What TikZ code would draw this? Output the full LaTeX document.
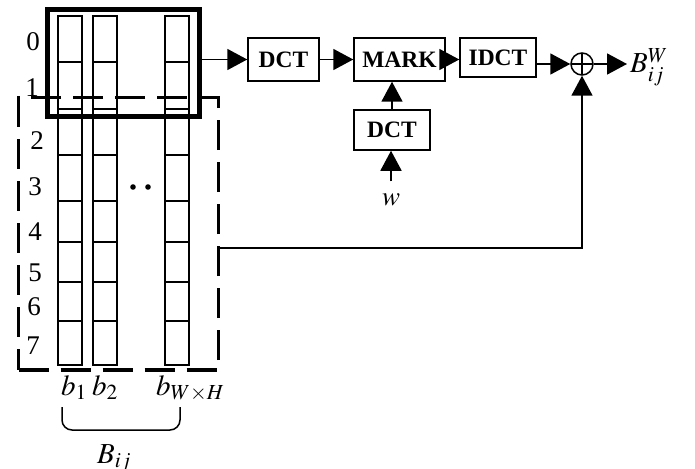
\documentclass[tikz,border=0pt]{standalone}
\usepackage{mathptmx}
\usepackage{fontspec}
\setmainfont{Liberation Serif}
\usetikzlibrary{arrows.meta, positioning, calc}

\begin{document}
\begin{tikzpicture}[x=1pt, y=-1pt,
    bloque/.style={rectangle, draw, line width=1.5pt, inner sep=0pt, font=\fontsize{23.5}{26}\selectfont\bfseries},
    flecha/.style={line width=1.8pt, -{Triangle[length=20pt, width=21pt]}},
    celda/.style={line width=1.6pt},
    etiq/.style={font=\fontsize{27}{30}\selectfont},
    simbolo/.style={font=\fontsize{29}{32}\selectfont}]

    \useasboundingbox (0,0) rectangle (695,468);

    % columnas b_1 ... b_{WxH}
    \foreach \x in {58, 93, 165} {
        \draw[celda] (\x,16) rectangle (\x+24,365);
        \foreach \y in {62, 109, 155, 201, 242, 282, 321}
            \draw[celda] (\x,\y) -- (\x+24,\y);
    }
    \foreach \n/\x/\y in {0/33/42, 1/32/88, 2/37/141, 3/35/187, 4/35/232, 5/35/273, 6/34/307, 7/33/346}
        \node[etiq] (fila\n) at (\x,\y) {\n};
    \fill (133,187) circle (2.8pt) (148,187) circle (2.8pt);

    \node[draw, line width=5pt, minimum width=152pt, minimum height=106pt, inner sep=0pt] (ventana) at (123.5,63) {};
    \node[draw, line width=3.5pt, dash pattern=on 30pt off 12pt, minimum width=200pt, minimum height=272.5pt, inner sep=0pt] (grupo) at (118.5,233.75) {};

    \node[simbolo, anchor=base west, inner sep=0pt] (b1) at (61,395) {$b_1$};
    \node[simbolo, anchor=base west, inner sep=0pt] (b2) at (92,395) {$b_2$};
    \node[simbolo, anchor=base west, inner sep=0pt] (bn) at (156,395) {$b_{W\times H}$};
    \draw[line width=1.5pt, rounded corners=10pt] (62,407) -- (62,430) -- (180,430) -- (180,407);
    \node[simbolo, anchor=base west, inner sep=0pt] (bij) at (97,463) {$B_{ij}$};

    % cadena de marcado
    \node[bloque, minimum width=71pt, minimum height=43pt] (dct) at (283.5,59.5) {DCT};
    \node[bloque, minimum width=91pt, minimum height=43pt] (mark) at (399.5,59.5) {MARK};
    \node[bloque, minimum width=76pt, minimum height=39pt] (idct) at (498,57.5) {IDCT};
    \node[bloque, minimum width=76pt, minimum height=40pt] (dctw) at (392,130) {DCT};
    \node[etiq] (w) at (391,200) {$w$};
    \node[circle, draw, line width=1.5pt, minimum size=22pt, inner sep=0pt,
        path picture={\draw[line width=1.5pt] (path picture bounding box.north) -- (path picture bounding box.south)
            (path picture bounding box.west) -- (path picture bounding box.east);}] (suma) at (582,64) {};
    \node[simbolo, anchor=west, inner sep=0pt] (salida) at (630,67) {$B^W_{ij}$};

    \draw[flecha] (ventana.east |- dct) -- (dct);
    \draw[flecha] (dct) -- (mark);
    \draw[flecha] (mark.east) -- (mark.east -| idct.west);
    \draw[flecha] (idct.east |- suma) -- (suma);
    \draw[flecha] (suma) -- ([xshift=-3pt]salida.west |- suma);
    \draw[flecha] (dctw.north) -- (dctw.north |- mark.south);
    \draw[flecha] ([yshift=9pt]w.north) -- (w.north |- dctw.south);
    \draw[flecha] (grupo.east) ++(0,14) -| (suma);
\end{tikzpicture}
\end{document}
